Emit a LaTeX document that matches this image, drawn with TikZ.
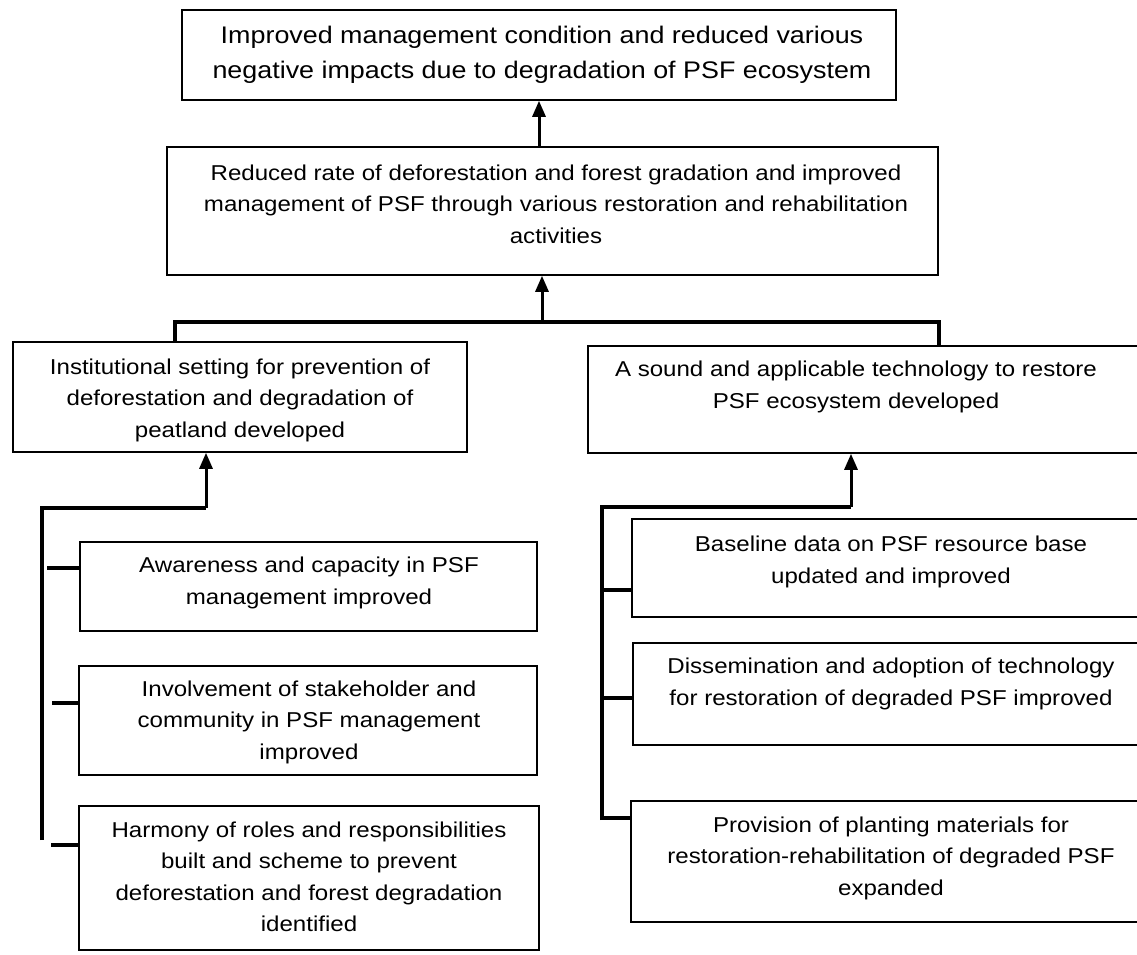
\documentclass[tikz,border=0pt]{standalone}
\usepackage{fontspec}
\setmainfont[FakeStretch=1.12]{Liberation Sans}
\usetikzlibrary{arrows.meta}
\tikzset{
  box/.style={draw=black, line width=1.6pt, rectangle, inner sep=0pt},
  txt/.style={align=center, inner sep=0pt, font=\fontsize{21.5}{31.5}\selectfont},
  bigtxt/.style={align=center, inner sep=0pt, font=\fontsize{24}{35}\selectfont},
  conn/.style={line width=3.5pt, line cap=butt},
  arr/.style={line width=3pt, -{Triangle[length=16pt,width=13pt]}},
}
\begin{document}
\begin{tikzpicture}[x=1pt, y=-1pt]
\useasboundingbox (0,0) rectangle (1137,954);
% boxes
\node[box, minimum width=714pt, minimum height=90pt] (b1) at (539,55) {};
\node[box, minimum width=771pt, minimum height=128pt] (b2) at (552.5,211) {};
\node[box, minimum width=454pt, minimum height=110pt] (L) at (240,397) {};
\node[box, minimum width=551pt, minimum height=107pt] (R) at (863.5,399.5) {};
\node[box, minimum width=457pt, minimum height=89pt] (A) at (308.5,586.5) {};
\node[box, minimum width=458pt, minimum height=109pt] (I) at (308,720.5) {};
\node[box, minimum width=460pt, minimum height=144pt] (H) at (309,878) {};
\node[box, minimum width=507pt, minimum height=98pt] (B) at (885.5,568) {};
\node[box, minimum width=506pt, minimum height=102pt] (D) at (886,694) {};
\node[box, minimum width=508pt, minimum height=121pt] (P) at (885,861.5) {};
% texts
\node[bigtxt] (t1) at (542,55) {Improved management condition and reduced various\\negative impacts due to degradation of PSF ecosystem};
\node[txt] (t2) at (556,204) {Reduced rate of deforestation and forest gradation and improved\\management of PSF through various restoration and rehabilitation\\activities};
\node[txt] (tL) at (240,400) {Institutional setting for prevention of\\deforestation and degradation of\\peatland developed};
\node[txt] (tR) at (856,387) {A sound and applicable technology to restore\\PSF ecosystem developed};
\node[txt] (tA) at (309,583) {Awareness and capacity in PSF\\management improved};
\node[txt] (tI) at (309,722) {Involvement of stakeholder and\\community in PSF management\\improved};
\node[txt] (tH) at (309,877) {Harmony of roles and responsibilities\\built and scheme to prevent\\deforestation and forest degradation\\identified};
\node[txt] (tB) at (891,562) {Baseline data on PSF resource base\\updated and improved};
\node[txt] (tD) at (891,684) {Dissemination and adoption of technology\\for restoration of degraded PSF improved};
\node[txt] (tP) at (891,858) {Provision of planting materials for\\restoration-rehabilitation of degraded PSF\\expanded};
% top connectors
\draw[arr] (b2.north -| b1.south) -- (b1.south);
\coordinate (barL) at (175,322);
\coordinate (barR) at (939,322);
\coordinate (barM) at (542,322);
\draw[conn] (L.north -| barL) -- (barL) -- (barR) -- (R.north -| barR);
\draw[arr] (barM) -- (b2.south -| barM);
% left group
\coordinate (lTop) at (42,508);
\coordinate (lUp) at (206,508);
\coordinate (lBot) at (42,840);
\draw[conn] (lBot) -- (lTop) -- (lUp);
\draw[arr] (lUp) -- (L.south -| lUp);
\coordinate (lt1) at (47,568);
\coordinate (lt2) at (52,703);
\coordinate (lt3) at (51,845);
\draw[conn] (lt1) -- (lt1 -| A.west);
\draw[conn] (lt2) -- (lt2 -| I.west);
\draw[conn] (lt3) -- (lt3 -| H.west);
% right group
\coordinate (rTop) at (602,507);
\coordinate (rUp) at (851,507);
\coordinate (rBot) at (602,820);
\draw[conn] (rBot) -- (rTop) -- (rUp);
\draw[arr] (rUp) -- (R.south -| rUp);
\coordinate (rt1) at (602,590);
\coordinate (rt2) at (602,698);
\coordinate (rt3) at (602,818);
\draw[conn] (rt1) -- (rt1 -| B.west);
\draw[conn] (rt2) -- (rt2 -| D.west);
\draw[conn] (rt3) -- (rt3 -| P.west);
\end{tikzpicture}
\end{document}
